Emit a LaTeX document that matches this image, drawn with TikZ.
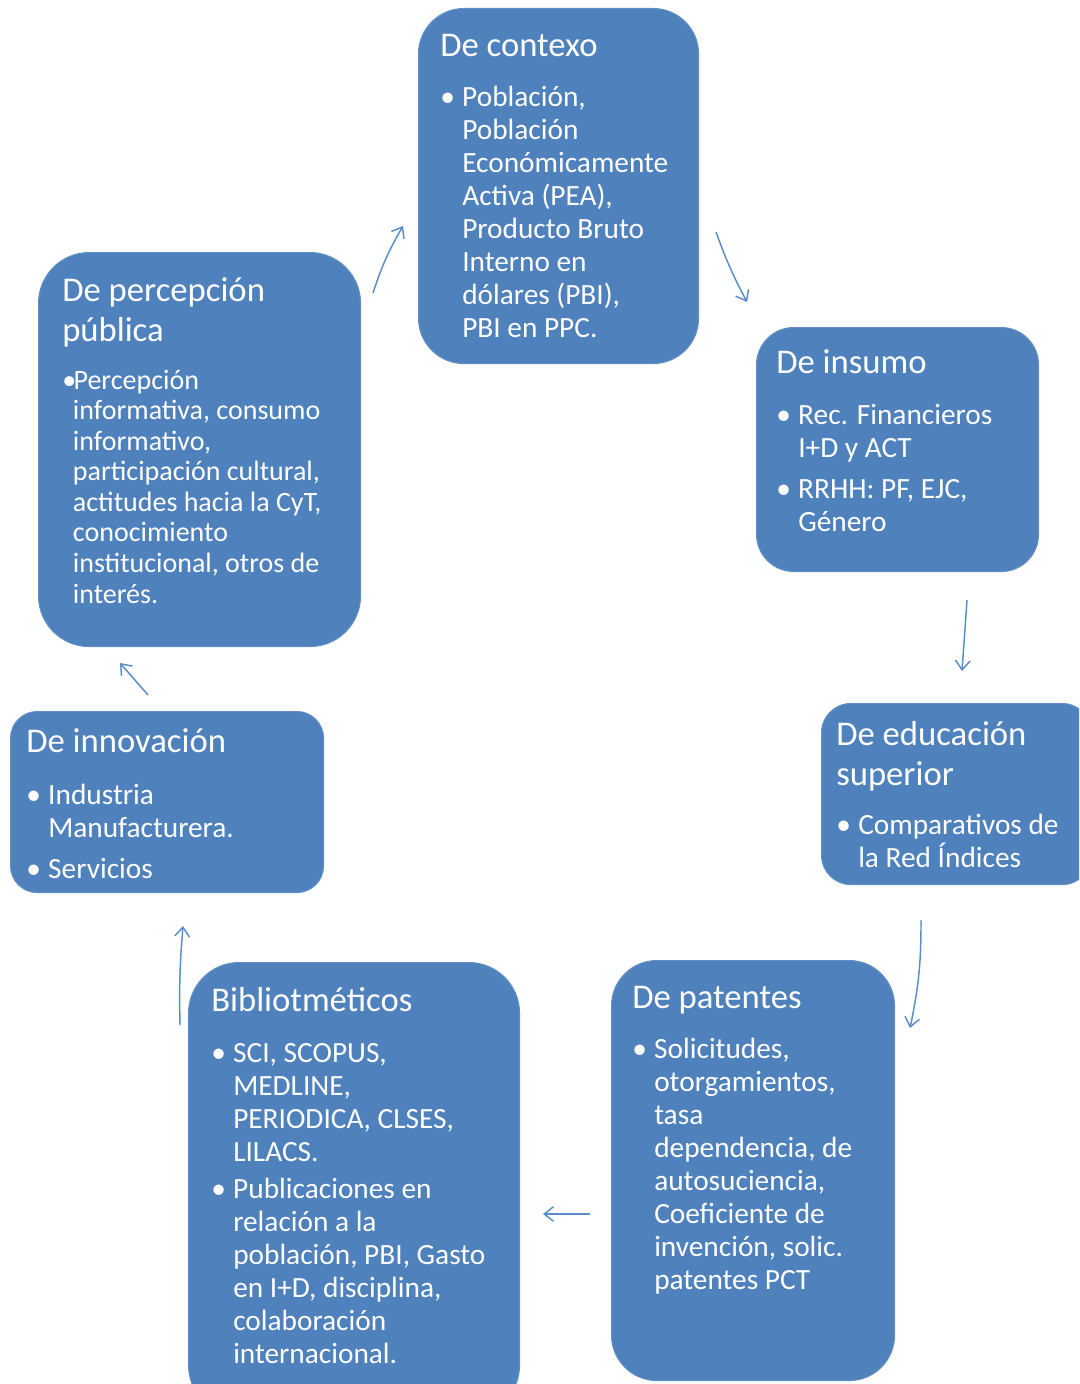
\documentclass[tikz,border=0pt]{standalone}
\usepackage{fontspec}
\setmainfont{Carlito}
\usetikzlibrary{arrows.meta}
\definecolor{boxblue}{RGB}{79,129,189}
\definecolor{arrowblue}{RGB}{90,140,200}
\newcommand\bul{\makebox[16.5pt][l]{•}}
\newcommand\ind{\hspace*{16.5pt}}
\newcommand\tstrut{\rule{0pt}{22pt}}
\newcommand\bstrut{\rule{0pt}{18pt}}
\tikzset{
  card/.style={fill=boxblue, draw=boxblue!90!white, line width=0.8pt, anchor=north west, inner sep=0pt},
  ttl/.style={anchor=north west, inner sep=0pt, text=white, align=left, font=\fontsize{26}{30}\selectfont},
  body/.style={anchor=north west, inner sep=0pt, text=white, align=left, font=\fontsize{22}{24.75}\selectfont},
  bodys/.style={anchor=north west, inner sep=0pt, text=white, align=left, font=\fontsize{21}{22.9}\selectfont},
  flow/.style={draw=arrowblue, line width=1.1pt, -{Straight Barb[length=7pt,width=11pt,line width=1.1pt]}}
}
\begin{document}
\begin{tikzpicture}[x=0.75pt,y=-0.75pt]
\clip (0,0) rectangle (1079,1384);
\fill[white] (0,0) rectangle (1079,1384);
% boxes
\node[card, rounded corners=34pt, minimum width=210pt, minimum height=266.25pt] (c1) at (418,8) {};
\node[card, rounded corners=28pt, minimum width=211.5pt, minimum height=183pt] (c2) at (756,327) {};
\node[card, rounded corners=22pt, minimum width=202.5pt, minimum height=135.75pt] (c3) at (821,703) {};
\node[card, rounded corners=34pt, minimum width=212.25pt, minimum height=315pt] (c4) at (611,960) {};
\node[card, rounded corners=38pt, minimum width=248.25pt, minimum height=340pt] (c5) at (188,962) {};
\node[card, rounded corners=20pt, minimum width=234.75pt, minimum height=135.75pt] (c6) at (10,711) {};
\node[card, rounded corners=38pt, minimum width=241.5pt, minimum height=295.5pt] (c7) at (38,252) {};
% titles
\node[ttl] (t1) at (440,26.7) {\tstrut De contexo};
\node[ttl] (t2) at (776,343.7) {\tstrut De insumo};
\node[ttl] (t3) at (836,715.7) {\tstrut De educación\\superior};
\node[ttl] (t4) at (632,978.7) {\tstrut De patentes};
\node[ttl] (t5) at (211,981.7) {\tstrut Bibliotméticos};
\node[ttl] (t6) at (26,722.7) {\tstrut De innovación};
\node[ttl] (t7) at (62,271.7) {\tstrut De percepción\\pública};
% bodies
\node[body] (b1) at (440,82) {\bstrut\bul Población,\\ \ind Población\\ \ind Económicamente\\ \ind Activa (PEA),\\ \ind Producto Bruto\\ \ind Interno en\\ \ind dólares (PBI),\\ \ind PBI en PPC.};
\node[body] (b2) at (776,400) {\bstrut\bul Rec. Financieros\\ \ind I+D y ACT\\[6pt] \bul RRHH: PF, EJC,\\ \ind Género};
\node[body] (b3) at (836,810) {\bstrut\bul Comparativos de\\ \ind la Red Índices};
\node[body] (b4) at (632,1034) {\bstrut\bul Solicitudes,\\ \ind otorgamientos,\\ \ind tasa\\ \ind dependencia, de\\ \ind autosuciencia,\\ \ind Coeficiente de\\ \ind invención, solic.\\ \ind patentes PCT};
\node[body] (b5) at (211,1038) {\bstrut\bul SCI, SCOPUS,\\ \ind MEDLINE,\\ \ind PERIODICA, CLSES,\\ \ind LILACS.\\[3pt] \bul Publicaciones en\\ \ind relación a la\\ \ind población, PBI, Gasto\\ \ind en I+D, disciplina,\\ \ind colaboración\\ \ind internacional.};
\node[body] (b6) at (26,780) {\bstrut\bul Industria\\ \ind Manufacturera.\\[6pt] \bul Servicios};
\node[bodys] (b7) at (62,365) {\bstrut\makebox[8.5pt][l]{•}Percepción\\ \hspace*{8pt}informativa, consumo\\ \hspace*{8pt}informativo,\\ \hspace*{8pt}participación cultural,\\ \hspace*{8pt}actitudes hacia la CyT,\\ \hspace*{8pt}conocimiento\\ \hspace*{8pt}institucional, otros de\\ \hspace*{8pt}interés.};
% arrow end points
\coordinate (a1s) at (373,293); \coordinate (a1e) at (403,226);
\coordinate (a2s) at (716,232); \coordinate (a2e) at (747,302);
\coordinate (a3s) at (967,600); \coordinate (a3e) at (962,671);
\coordinate (a4s) at (921,920); \coordinate (a4e) at (910,1028);
\coordinate (a5s) at (590,1214); \coordinate (a5e) at (543,1214);
\coordinate (a6s) at (180,1025); \coordinate (a6e) at (183,926);
\coordinate (a7s) at (148,695); \coordinate (a7e) at (120,663);
\draw[flow] (a1s) to[bend left=6] (a1e);
\draw[flow] (a2s) to[bend right=4] (a2e);
\draw[flow] (a3s) to (a3e);
\draw[flow] (a4s) to[bend left=6] (a4e);
\draw[flow] (a5s) to (a5e);
\draw[flow] (a6s) to[bend left=3] (a6e);
\draw[flow] (a7s) to (a7e);
\end{tikzpicture}
\end{document}
